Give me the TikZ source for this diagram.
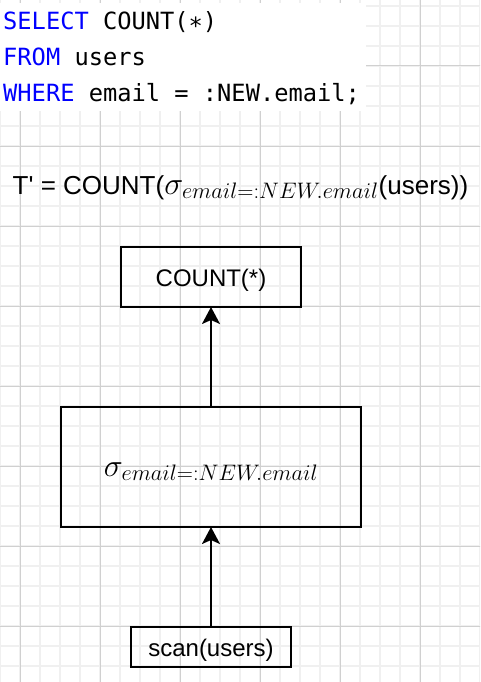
\RequirePackage{fix-cm}
\documentclass[tikz,border=0pt]{standalone}
\usepackage{fontspec}
\setsansfont{Liberation Sans}
\setmonofont{DejaVu Sans Mono}
\usetikzlibrary{
    arrows.meta,
    positioning
}
\definecolor{gridminor}{HTML}{F0F0F0}
\definecolor{gridmajor}{HTML}{D0D0D0}
\definecolor{keyword}{HTML}{0000FF}
\newcommand{\kw}[1]{\textcolor{keyword}{#1}}
\newcommand{\sqlsize}{\fontsize{23.7}{36}\selectfont}
\newcommand{\mathsize}{\fontsize{32}{36}\selectfont}
\tikzset{operator/.style={
    draw,
    line width=2pt,
    outer sep=0pt,
    text height=20pt,
    text depth=2pt,
    font=\sffamily\fontsize{24}{28}\selectfont
}}
\tikzset{sql/.style={
    anchor=base west,
    font=\ttfamily\sqlsize
}}
\tikzset{arrow/.style={-{Stealth[length=17pt,width=18pt,inset=4pt]},line width=2pt}}

\begin{document}
\begin{tikzpicture}[
            x=1pt, y=-1pt,
            inner sep=0pt,
            node distance=100pt,
    ]
        \useasboundingbox (0,0) rectangle (480,682);

        % grid of the canvas
        \begin{scope}
            \clip (0,0) rectangle (480,682);
            \draw[gridminor, line width=1.5pt, step=20pt, shift={(0,6)}] (-20,-20) grid (500,700);
            \draw[gridmajor, line width=1pt, step=80pt, shift={(20,66)}] (-100,-100) grid (500,700);
        \end{scope}

        \fill[white] (0,3) rectangle (366,111);

        \node[sql] (select-line) at (3,29.5) {\kw{SELECT} COUNT(\raisebox{-5pt}{*})};
        \node[sql] (from-line) at (3,65.5) {\kw{FROM} users};
        \node[sql] (where-line) at (3,101.5) {\kw{WHERE} email = :NEW.email;};

        \node[anchor=base west, font=\sffamily\fontsize{26}{30}\selectfont]
            (formula) at (12.5,194)
            {T\textquotesingle{} = COUNT({\mathsize$\sigma_{email=:NEW.email}$}(users))};

        \node[operator, minimum width=180pt, minimum height=60pt]
            (count) at (211,277)
            {COUNT(*)};

        \node[operator, minimum width=300pt, minimum height=120pt, below=of count]
            (select)
            {\mathsize$\sigma_{email=:NEW.email}$};

        \node[operator, minimum width=160pt, minimum height=40pt, below=of select]
            (scan)
            {scan(users)};

        \draw[arrow] (scan) -- (select);
        \draw[arrow] (select) -- (count);

    \end{tikzpicture}
\end{document}
